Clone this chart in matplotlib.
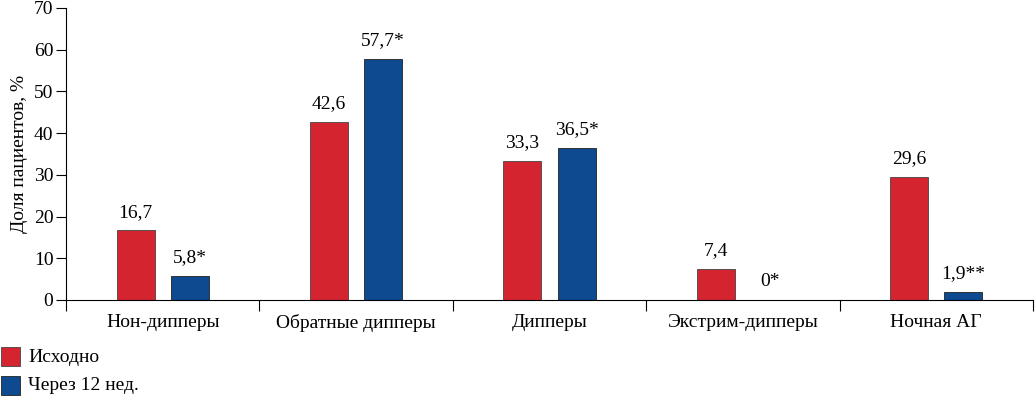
import numpy as np
import matplotlib.pyplot as plt
from matplotlib.patches import Rectangle

# Data
categories = ['Нон-дипперы', 'Обратные дипперы', 'Дипперы', 'Экстрим-дипперы', 'Ночная АГ']
baseline = [16.7, 42.6, 33.3, 7.4, 29.6]
week12 = [5.8, 57.7, 36.5, 0.0, 1.9]
baseline_labels = ['16,7', '42,6', '33,3', '7,4', '29,6']
week12_labels = ['5,8*', '57,7*', '36,5*', '0*', '1,9**']
series_names = ['Исходно', 'Через 12 нед.']

RED = '#d42430'
BLUE = '#0d4a8f'

plt.rcParams['font.family'] = ['Liberation Serif', 'DejaVu Serif']
plt.rcParams['font.size'] = 14

W, H = 1035, 397
fig = plt.figure(figsize=(W / 100, H / 100), dpi=100)
ax = fig.add_axes([66 / W, 97 / H, (1033 - 66) / W, 292 / H])

x = np.arange(len(categories)) + 0.5
w = 0.197
gap = 0.083
off = (w + gap) / 2

b1 = ax.bar(x - off, baseline, w, color=RED, edgecolor='#444444', linewidth=0.6)
b2 = ax.bar(x + off, week12, w, color=BLUE, edgecolor='#222222', linewidth=0.6)

for bars, labels in [(b1, baseline_labels), (b2, week12_labels)]:
    for rect, lab in zip(bars, labels):
        ax.annotate(lab, (rect.get_x() + rect.get_width() / 2, rect.get_height()),
                    xytext=(0, 7), textcoords='offset points', ha='center', va='bottom')

ax.set_xlim(0, len(categories))
ax.set_ylim(0, 70)
ax.set_yticks(range(0, 71, 10))

# group separators as ticks, labels centred in between
ax.set_xticks(np.arange(len(categories) + 1))
ax.set_xticklabels([])
ax.set_xticks(x, minor=True)
ax.set_xticklabels(categories, minor=True)
ax.tick_params(axis='x', which='major', direction='out', length=8, width=0.8)
ax.tick_params(axis='x', which='minor', length=0, pad=10)
ax.tick_params(axis='y', direction='out', length=7, width=0.8, pad=2)

for s in ['top', 'right']:
    ax.spines[s].set_visible(False)
ax.spines['left'].set_linewidth(0.8)
ax.spines['bottom'].set_linewidth(0.8)

ax.set_ylabel('Доля пациентов, %', labelpad=4)

# legend drawn by hand at the bottom-left corner (pixel positions)
legend_rows = [(RED, '#444444', 347), (BLUE, '#222222', 376)]
for (fc, ec, top), name in zip(legend_rows, series_names):
    fig.patches.append(Rectangle((1 / W, 1 - (top + 19) / H), 19 / W, 19 / H,
                                 transform=fig.transFigure, facecolor=fc,
                                 edgecolor=ec, linewidth=0.6))
    fig.text(28 / W, 1 - (top + 10) / H, name, ha='left', va='center')

fig.savefig('out.png', dpi=100)
